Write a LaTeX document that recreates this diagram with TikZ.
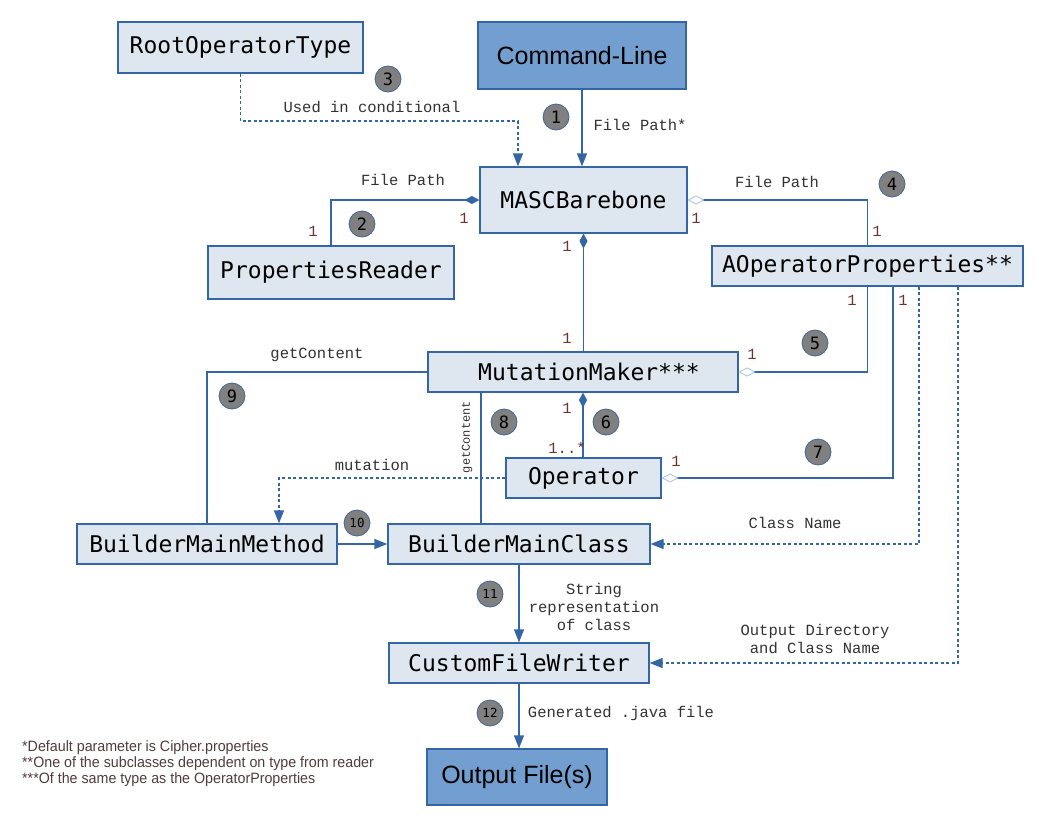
\documentclass[tikz,border=0pt]{standalone}
\usepackage{fontspec}
\setmainfont{Liberation Sans}
\newfontfamily\classfont{DejaVu Sans Mono}
\newfontfamily\labelfont{Liberation Mono}
\newfontfamily\notefont[FakeStretch=0.95]{Liberation Sans}
\usetikzlibrary{arrows.meta}
\definecolor{boxfill}{RGB}{222,230,239}
\definecolor{boxline}{RGB}{52,101,164}
\definecolor{darkfill}{RGB}{114,159,207}
\definecolor{badgefill}{RGB}{128,128,128}
\definecolor{badgeline}{RGB}{70,100,150}
\definecolor{labeltext}{RGB}{50,50,50}
\definecolor{multtext}{RGB}{110,50,50}
\definecolor{notetext}{RGB}{80,60,60}
\definecolor{opendia}{RGB}{170,195,225}
\begin{document}
\begin{tikzpicture}[x=1pt, y=-1pt,
  classbox/.style={draw=boxline, fill=boxfill, line width=1.2pt, inner sep=0pt, font=\classfont\fontsize{23}{27}\selectfont},
  endbox/.style={draw=boxline, fill=darkfill, line width=1.2pt, inner sep=0pt, font=\fontsize{25}{30}\selectfont},
  badge/.style={circle, draw=badgeline, fill=badgefill, line width=0.8pt, minimum size=26pt, inner sep=0pt, font=\classfont\fontsize{17}{20}\selectfont},
  smallbadge/.style={badge, font=\classfont\fontsize{12.5}{15}\selectfont},
  lbl/.style={font=\labelfont\fontsize{15.5}{18}\selectfont, text=labeltext, inner sep=0pt, align=center},
  mult/.style={font=\labelfont\fontsize{15.5}{18}\selectfont, text=multtext, inner sep=0pt},
  link/.style={draw=boxline, line width=1.2pt},
  dep/.style={link, dash pattern=on 3pt off 2.5pt},
  arr/.style={-{Triangle[width=10pt,length=13pt]}},
  comp/.style={-{Diamond[width=8pt,length=15pt]}},
  compstart/.style={{Diamond[width=8pt,length=15pt]}-},
  agg/.style={-{Diamond[open,width=9pt,length=17pt,color=opendia,line width=0.8pt]}},
  aggstart/.style={{Diamond[open,width=9pt,length=17pt,color=opendia,line width=0.8pt]}-}]
\useasboundingbox (0,0) rectangle (1056,816);

\node[classbox, minimum width=245pt, minimum height=51pt] (root) at (240.5,47.5) {RootOperatorType};
\node[endbox, minimum width=208pt, minimum height=67pt] (cmd) at (582,55.5) {Command-Line};
\node[classbox, minimum width=207pt, minimum height=66pt] (masc) at (583.5,200) {MASCBarebone};
\node[classbox, minimum width=246pt, minimum height=53pt] (prop) at (331,272.5) {PropertiesReader};
\node[classbox, minimum width=311pt, minimum height=40pt] (aop) at (867.5,266) {AOperatorProperties**};
\node[classbox, minimum width=310pt, minimum height=40pt] (mm) at (583,372) {\hspace*{12pt}MutationMaker***};
\node[classbox, minimum width=155pt, minimum height=40pt] (op) at (583.5,478) {Operator};
\node[classbox, minimum width=260pt, minimum height=40pt] (bmm) at (207,544) {BuilderMainMethod};
\node[classbox, minimum width=262pt, minimum height=40pt] (bmc) at (519,544) {BuilderMainClass};
\node[classbox, minimum width=260pt, minimum height=40pt] (cfw) at (519,663) {CustomFileWriter};
\node[endbox, minimum width=180pt, minimum height=56pt] (out) at (517,777) {Output File(s)};

\coordinate (rootturn) at (518,121);

\draw[link, arr] (cmd.south) -- (cmd.south |- masc.north);
\draw[dep, arr] (root.south) |- (rootturn) -- (rootturn |- masc.north);
\draw[link, comp] (prop.north) |- (masc.west);
\draw[link, aggstart] (masc.east) -| (aop.north);
\draw[link, compstart] (masc.south) -- (masc.south |- mm.north);
\draw[link, agg] (aop.south) |- (mm.east);
\draw[link, compstart] (mm.south) -- (mm.south |- op.north);
\draw[link, agg] ([xshift=25.5pt]aop.south) |- (op.east);
\draw[link] ([xshift=-102pt]mm.south) -- ([xshift=-102pt]mm.south |- bmc.north);
\draw[link] (mm.west) -| (bmm.north);
\draw[dep, arr] (op.west) -| ([xshift=72pt]bmm.north);
\draw[link, arr] (bmm.east) -- (bmc.west);
\draw[dep, arr] ([xshift=51.5pt]aop.south) |- (bmc.east);
\draw[dep, arr] ([xshift=90.5pt]aop.south) |- (cfw.east);
\draw[link, arr] (bmc.south) -- (cfw.north);
\draw[link, arr] (cfw.south) -- (cfw.south |- out.north);

\node[lbl] (lused) at (372,107) {Used in conditional};
\node[lbl] (lcmd) at (640,125) {File Path*};
\node[lbl] (lprop) at (403,180) {File Path};
\node[lbl] (laop) at (777,182) {File Path};
\node[lbl] (lget) at (317,355) {getContent};
\node[lbl, rotate=90, font=\labelfont\fontsize{12}{14}\selectfont] (lgetv) at (467,437) {getContent};
\node[lbl] (lmut) at (372,465) {mutation};
\node[lbl] (lclass) at (795,523) {Class Name};
\node[lbl] (lstr) at (594,607) {String\\representation\\of class};
\node[lbl] (ldir) at (815,638.5) {Output Directory\\and Class Name};
\node[lbl] (lgen) at (621,713) {Generated .java file};

\node[mult] (m1) at (464,218) {1};
\node[mult] (m2) at (313,231) {1};
\node[mult] (m3) at (696,218) {1};
\node[mult] (m4) at (877,231) {1};
\node[mult] (m5) at (567,246) {1};
\node[mult] (m6) at (567,338) {1};
\node[mult] (m7) at (852,300) {1};
\node[mult] (m8) at (903,300) {1};
\node[mult] (m9) at (752,354) {1};
\node[mult] (m10) at (567,408) {1};
\node[mult] (m11) at (567,448) {1..*};
\node[mult] (m12) at (676,461) {1};

\node[badge] (b1) at (556,117) {1};
\node[badge] (b2) at (362,224) {2};
\node[badge] (b3) at (388,79) {3};
\node[badge] (b4) at (892,184) {4};
\node[badge] (b5) at (815,343) {5};
\node[badge] (b6) at (606,422) {6};
\node[badge] (b7) at (818,452) {7};
\node[badge] (b8) at (504,422) {8};
\node[badge] (b9) at (232,396) {9};
\node[smallbadge] (b10) at (357,523) {10};
\node[smallbadge] (b11) at (490,594) {11};
\node[smallbadge] (b12) at (490,713) {12};

\node[anchor=north west, align=left, inner sep=0pt, text=notetext, font=\notefont\fontsize{15}{16}\selectfont] (notes) at (22,740) {*Default parameter is Cipher.properties\\**One of the subclasses dependent on type from reader\\***Of the same type as the OperatorProperties};
\end{tikzpicture}
\end{document}
